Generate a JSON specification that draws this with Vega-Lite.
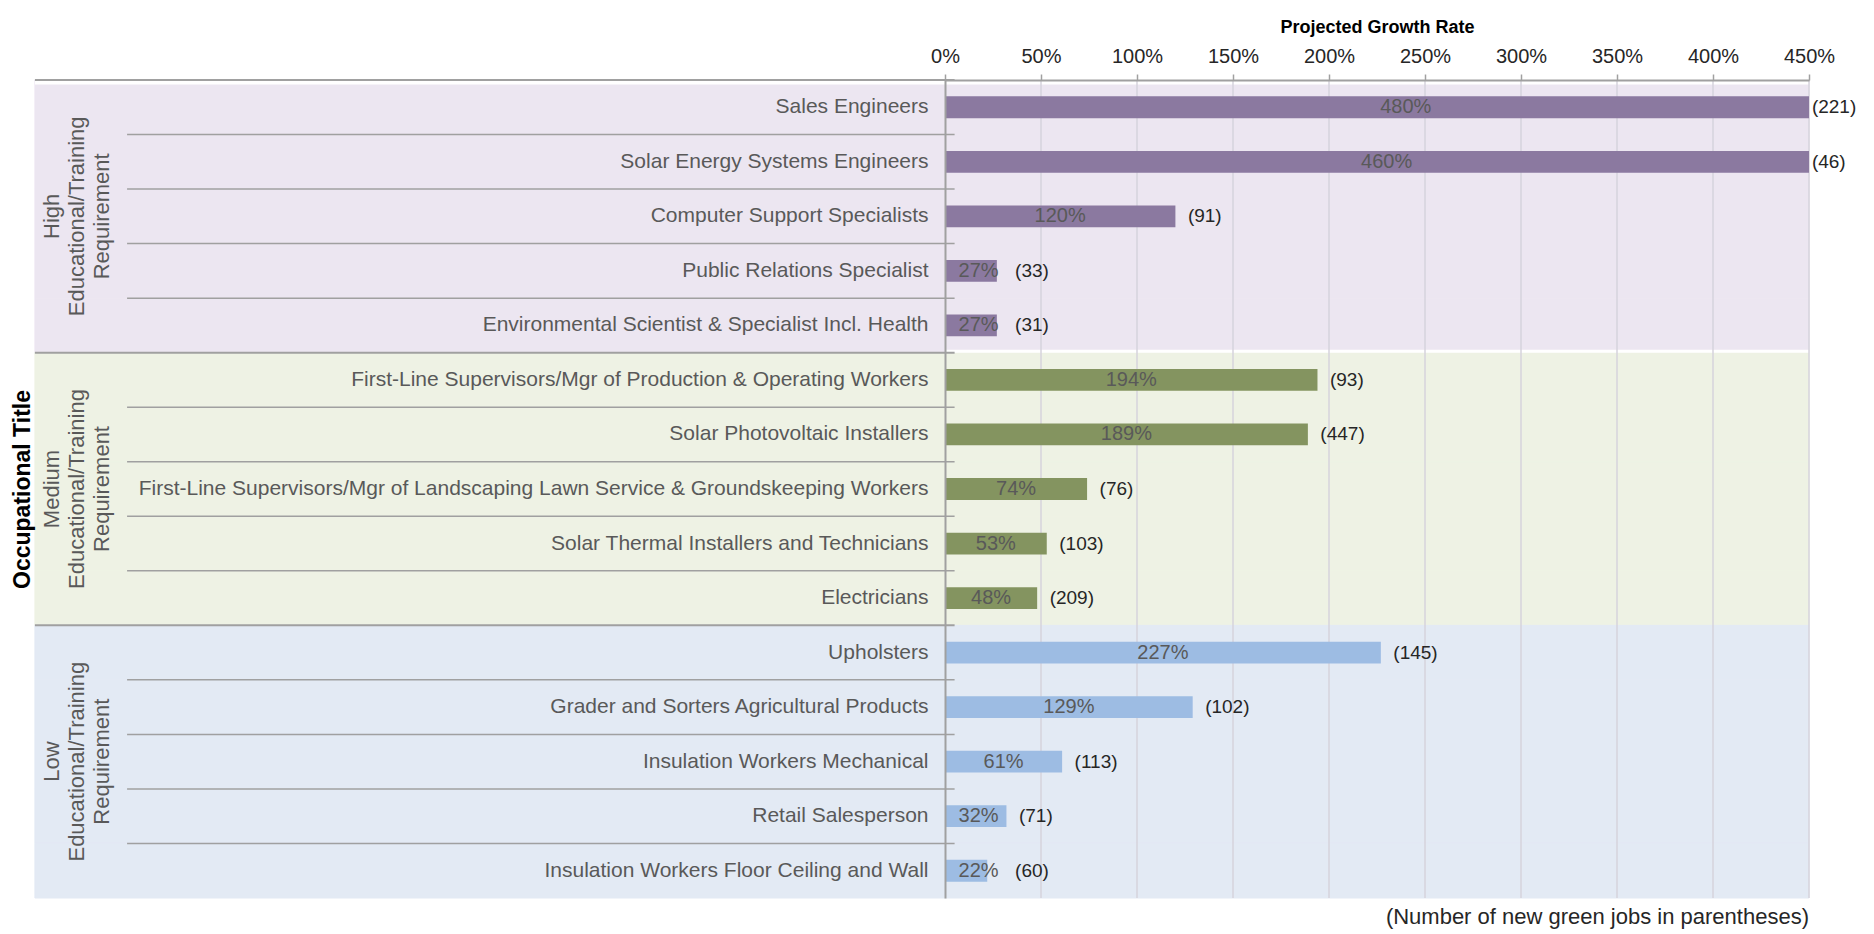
{
  "$schema": "https://vega.github.io/schema/vega-lite/v6.json",
  "width": 864,
  "height": 818,
  "autosize": {"type": "none"},
  "padding": {"left": 945, "top": 80, "right": 65, "bottom": 36},
  "background": "white",
  "config": {"font": "Liberation Sans", "view": {"stroke": null}},
  "title": {
    "text": "(Number  of new green  jobs in parentheses)",
    "orient": "bottom",
    "anchor": "end",
    "frame": "group",
    "fontSize": 22,
    "fontWeight": "normal",
    "color": "#262626",
    "offset": 8
  },
  "datasets": {
    "rows": [
      {"occ": "Sales Engineers", "group": "High", "rank": 1, "rate": 480, "jobs": 221, "gl": "High\nEducational/Training\nRequirement"},
      {"occ": "Solar Energy  Systems Engineers", "group": "High", "rank": 2, "rate": 460, "jobs": 46, "gl": "High\nEducational/Training\nRequirement"},
      {"occ": "Computer Support Specialists", "group": "High", "rank": 3, "rate": 120, "jobs": 91, "gl": "High\nEducational/Training\nRequirement"},
      {"occ": "Public Relations Specialist", "group": "High", "rank": 4, "rate": 27, "jobs": 33, "gl": "High\nEducational/Training\nRequirement"},
      {"occ": "Environmental Scientist & Specialist Incl. Health", "group": "High", "rank": 5, "rate": 27, "jobs": 31, "gl": "High\nEducational/Training\nRequirement"},
      {"occ": "First-Line Supervisors/Mgr of Production & Operating Workers", "group": "Medium", "rank": 1, "rate": 194, "jobs": 93, "gl": "Medium\nEducational/Training\nRequirement"},
      {"occ": "Solar Photovoltaic Installers", "group": "Medium", "rank": 2, "rate": 189, "jobs": 447, "gl": "Medium\nEducational/Training\nRequirement"},
      {"occ": "First-Line Supervisors/Mgr of Landscaping  Lawn Service & Groundskeeping Workers", "group": "Medium", "rank": 3, "rate": 74, "jobs": 76, "gl": "Medium\nEducational/Training\nRequirement"},
      {"occ": "Solar Thermal Installers and Technicians", "group": "Medium", "rank": 4, "rate": 53, "jobs": 103, "gl": "Medium\nEducational/Training\nRequirement"},
      {"occ": "Electricians", "group": "Medium", "rank": 5, "rate": 48, "jobs": 209, "gl": "Medium\nEducational/Training\nRequirement"},
      {"occ": "Upholsters", "group": "Low", "rank": 1, "rate": 227, "jobs": 145, "gl": "Low\nEducational/Training\nRequirement"},
      {"occ": "Grader and Sorters Agricultural Products", "group": "Low", "rank": 2, "rate": 129, "jobs": 102, "gl": "Low\nEducational/Training\nRequirement"},
      {"occ": "Insulation Workers Mechanical", "group": "Low", "rank": 3, "rate": 61, "jobs": 113, "gl": "Low\nEducational/Training\nRequirement"},
      {"occ": "Retail Salesperson", "group": "Low", "rank": 4, "rate": 32, "jobs": 71, "gl": "Low\nEducational/Training\nRequirement"},
      {"occ": "Insulation Workers Floor Ceiling and Wall", "group": "Low", "rank": 5, "rate": 22, "jobs": 60, "gl": "Low\nEducational/Training\nRequirement"}
    ],
    "grid": [{"v": 50}, {"v": 100}, {"v": 150}, {"v": 200}, {"v": 250}, {"v": 300}, {"v": 350}, {"v": 400}, {"v": 450}]
  },
  "data": {"name": "rows"},
  "transform": [
    {"calculate": "datum.rate + '%'", "as": "pctLabel"},
    {"calculate": "'(' + datum.jobs + ')'", "as": "jobsLabel"},
    {"calculate": "max(datum.rate / 2, 17.5)", "as": "mid"},
    {"calculate": "datum.rate > 450 ? 451.5 : max(datum.rate, 30) + 6.5", "as": "cx"}
  ],
  "layer": [
    {
      "mark": {"type": "rect", "strokeWidth": 1},
      "encoding": {
        "y": {
          "field": "occ", "type": "nominal", "sort": null,
          "scale": {"paddingInner": 0, "paddingOuter": 0},
          "axis": {
            "title": "Occupational Title",
            "titleFontSize": 23, "titleFontWeight": "bold", "titleColor": "black",
            "titleX": -923, "titleY": 409, "titleAngle": 270,
            "titleAlign": "center", "titleBaseline": "middle",
            "labelFontSize": 21, "labelColor": "#595959", "labelPadding": 17,
            "labelLimit": 900, "ticks": false,
            "domainColor": "#A0A0A0", "domainWidth": 2, "zindex": 1
          }
        },
        "x": {
          "datum": -474, "type": "quantitative",
          "scale": {"domain": [0, 450], "nice": false},
          "axis": {
            "orient": "top",
            "values": [0, 50, 100, 150, 200, 250, 300, 350, 400, 450],
            "labelExpr": "datum.value + '%'",
            "labelFontSize": 20, "labelColor": "#262626", "labelPadding": 8,
            "labelFlush": false, "labelOverlap": false,
            "tickColor": "#A0A0A0", "tickSize": 6, "tickWidth": 1.5,
            "domainColor": "#A0A0A0", "domainWidth": 2, "grid": false,
            "title": "Projected Growth Rate",
            "titleFontSize": 18, "titleFontWeight": "bold", "titleColor": "black",
            "titlePadding": 10, "zindex": 1
          }
        },
        "x2": {"datum": 450},
        "fill": {
          "field": "group", "type": "nominal",
          "scale": {"domain": ["High", "Medium", "Low"], "range": ["#ECE6F1", "#EEF2E4", "#E3EAF4"]},
          "legend": null
        },
        "stroke": {
          "field": "group", "type": "nominal",
          "scale": {"domain": ["High", "Medium", "Low"], "range": ["#ECE6F1", "#EEF2E4", "#E3EAF4"]},
          "legend": null
        }
      }
    },
    {
      "transform": [{"filter": "datum.group == 'High' && datum.rank == 1"}],
      "mark": {"type": "rule", "color": "white", "strokeWidth": 9},
      "encoding": {
        "y": {"field": "occ", "type": "nominal", "sort": null, "bandPosition": 0},
        "x": {"datum": -474},
        "x2": {"datum": 450}
      }
    },
    {
      "transform": [{"filter": "datum.group == 'Medium' && datum.rank == 1"}],
      "mark": {"type": "rule", "color": "white", "strokeWidth": 3, "yOffset": -1.5},
      "encoding": {
        "y": {"field": "occ", "type": "nominal", "sort": null, "bandPosition": 0},
        "x": {"datum": 0},
        "x2": {"datum": 450}
      }
    },
    {
      "data": {"name": "grid"},
      "mark": {"type": "rule", "color": "#D6D3DC", "strokeWidth": 1.5},
      "encoding": {"x": {"field": "v", "type": "quantitative"}}
    },
    {
      "transform": [{"filter": "datum.rank > 1"}],
      "mark": {"type": "rule", "color": "#A0A0A0", "strokeWidth": 1.5},
      "encoding": {
        "y": {"field": "occ", "type": "nominal", "sort": null, "bandPosition": 0},
        "x": {"datum": -426},
        "x2": {"datum": 5}
      }
    },
    {
      "transform": [{"filter": "datum.rank == 1"}],
      "mark": {"type": "rule", "color": "#A0A0A0", "strokeWidth": 2},
      "encoding": {
        "y": {"field": "occ", "type": "nominal", "sort": null, "bandPosition": 0},
        "x": {"datum": -474},
        "x2": {"datum": 5}
      }
    },
    {
      "mark": {"type": "bar", "clip": true, "height": {"band": 0.4}},
      "encoding": {
        "y": {"field": "occ", "type": "nominal", "sort": null},
        "x": {"field": "rate", "type": "quantitative"},
        "color": {
          "field": "group", "type": "nominal",
          "scale": {"domain": ["High", "Medium", "Low"], "range": ["#8B79A0", "#849460", "#9DBCE3"]},
          "legend": null
        }
      }
    },
    {
      "mark": {"type": "text", "align": "center", "baseline": "middle", "fontSize": 20, "color": "#595959"},
      "encoding": {
        "y": {"field": "occ", "type": "nominal", "sort": null},
        "x": {"field": "mid", "type": "quantitative"},
        "text": {"field": "pctLabel", "type": "nominal"}
      }
    },
    {
      "mark": {"type": "text", "align": "left", "baseline": "middle", "fontSize": 19, "color": "#262626"},
      "encoding": {
        "y": {"field": "occ", "type": "nominal", "sort": null},
        "x": {"field": "cx", "type": "quantitative"},
        "text": {"field": "jobsLabel", "type": "nominal"}
      }
    },
    {
      "transform": [{"filter": "datum.rank == 3"}],
      "mark": {"type": "text", "align": "center", "baseline": "middle", "angle": 270, "lineBreak": "\n", "lineHeight": 25, "fontSize": 22, "color": "#595959"},
      "encoding": {
        "y": {"field": "occ", "type": "nominal", "sort": null},
        "x": {"datum": -465},
        "text": {"field": "gl", "type": "nominal"}
      }
    }
  ]
}
